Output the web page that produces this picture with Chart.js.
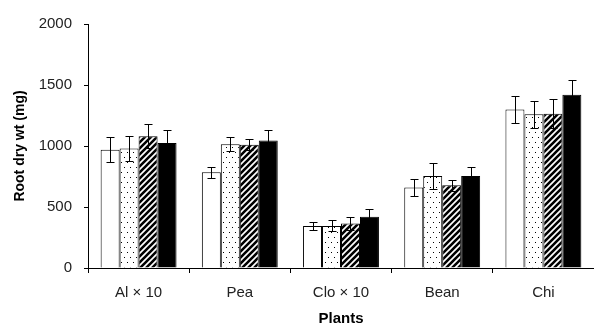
<!DOCTYPE html>
<html>
<head>
<meta charset="utf-8">
<script src="https://cdn.jsdelivr.net/npm/chart.js@4"></script>
<style>
  html, body { margin: 0; padding: 0; background: #fff; }
  #wrap { width: 594px; height: 326px; }
</style>
</head>
<body>
<div id="wrap"><canvas id="myChart" width="594" height="326"></canvas></div>
<script>
const plants = ['Al × 10', 'Pea', 'Clo × 10', 'Bean', 'Chi'];
const yTicks = [0, 500, 1000, 1500, 2000];

// four treatments (white, dotted, hatched, black)
const seriesA = [970, 785, 345, 660, 1300];
const seriesB = [980, 1015, 345, 755, 1260];
const seriesC = [1080, 1010, 365, 678, 1265];
const seriesD = [1025, 1045, 420, 755, 1420];

const errA = [100, 45, 30, 70, 110];
const errB = [100, 55, 45, 105, 110];
const errC = [100, 45, 55, 45, 120];
const errD = [110, 90, 65, 70, 120];

function makePattern(kind) {
    const c = document.createElement('canvas');
    const g = c.getContext('2d');
    if (kind === 'dots') {
        c.width = 6; c.height = 10;
        g.fillStyle = '#fff';
        g.fillRect(0, 0, 6, 10);
        g.fillStyle = '#000';
        g.fillRect(1, 2, 1, 1);
        g.fillRect(4, 7, 1, 1);
    } else {
        c.width = 6; c.height = 6;
        g.fillStyle = '#fff';
        g.fillRect(0, 0, 6, 6);
        g.strokeStyle = '#000';
        g.lineWidth = 2.6;
        g.beginPath();
        g.moveTo(-3, 9); g.lineTo(9, -3);
        g.moveTo(-9, 9); g.lineTo(3, -3);
        g.moveTo(3, 9); g.lineTo(15, -3);
        g.stroke();
    }
    return g.createPattern(c, 'repeat');
}

const errorBars = {
    id: 'errorBars',
    afterDatasetsDraw(chart) {
        const ctx = chart.ctx;
        const y = chart.scales.y;
        ctx.save();
        ctx.strokeStyle = '#000';
        ctx.lineWidth = 1;
        chart.data.datasets.forEach((ds, i) => {
            const meta = chart.getDatasetMeta(i);
            meta.data.forEach((bar, j) => {
                const v = ds.data[j], e = ds.errors[j];
                const x = Math.round(bar.x) + 0.5;
                const top = Math.round(y.getPixelForValue(v + e)) + 0.5;
                const bot = Math.round(y.getPixelForValue(v - e)) + 0.5;
                ctx.beginPath();
                ctx.moveTo(x, top); ctx.lineTo(x, bot);
                ctx.moveTo(x - 4, top); ctx.lineTo(x + 4, top);
                ctx.moveTo(x - 4, bot); ctx.lineTo(x + 4, bot);
                ctx.stroke();
            });
        });
        ctx.restore();
    }
};

const ctx = document.getElementById('myChart').getContext('2d');

const myChart = new Chart(ctx, {
    type: 'bar',
    data: {
        labels: plants,
        datasets: [
            { data: seriesA, errors: errA, backgroundColor: '#fff' },
            { data: seriesB, errors: errB, backgroundColor: makePattern('dots') },
            { data: seriesC, errors: errC, backgroundColor: makePattern('hatch') },
            { data: seriesD, errors: errD, backgroundColor: '#000' }
        ].map(d => Object.assign(d, {
            borderColor: '#000',
            borderWidth: 1,
            categoryPercentage: 0.75,
            barPercentage: 1.0
        }))
    },
    options: {
        responsive: false,
        animation: false,
        layout: { padding: { top: 24, right: 0, bottom: 0, left: 0 } },
        plugins: {
            legend: { display: false },
            tooltip: { enabled: false }
        },
        scales: {
            x: {
                grid: { offset: true, drawOnChartArea: false, tickLength: 5, color: '#000' },
                border: { color: '#000', width: 1 },
                ticks: { color: '#222', padding: 11, font: { family: 'Liberation Sans', size: 15 } },
                title: {
                    display: true,
                    text: 'Plants',
                    color: '#000',
                    padding: { top: 0, bottom: -1 },
                    font: { family: 'Liberation Sans', size: 15, weight: 'bold', lineHeight: 1.1 }
                },
                afterFit(scale) { scale.height = 58; }
            },
            y: {
                min: 0,
                max: 2000,
                afterBuildTicks(scale) { scale.ticks = yTicks.map(v => ({ value: v })); },
                grid: { drawOnChartArea: false, tickLength: 4, color: '#000' },
                border: { color: '#000', width: 1 },
                ticks: {
                    color: '#222',
                    padding: 12,
                    font: { family: 'Liberation Sans', size: 15 },
                    callback: v => String(v)
                },
                title: {
                    display: true,
                    text: 'Root dry wt (mg)',
                    color: '#000',
                    padding: { top: 12, bottom: 0 },
                    font: { family: 'Liberation Sans', size: 14, weight: 'bold' }
                },
                afterFit(scale) { scale.width = 88; }
            }
        }
    },
    plugins: [errorBars]
});
</script>
</body>
</html>
